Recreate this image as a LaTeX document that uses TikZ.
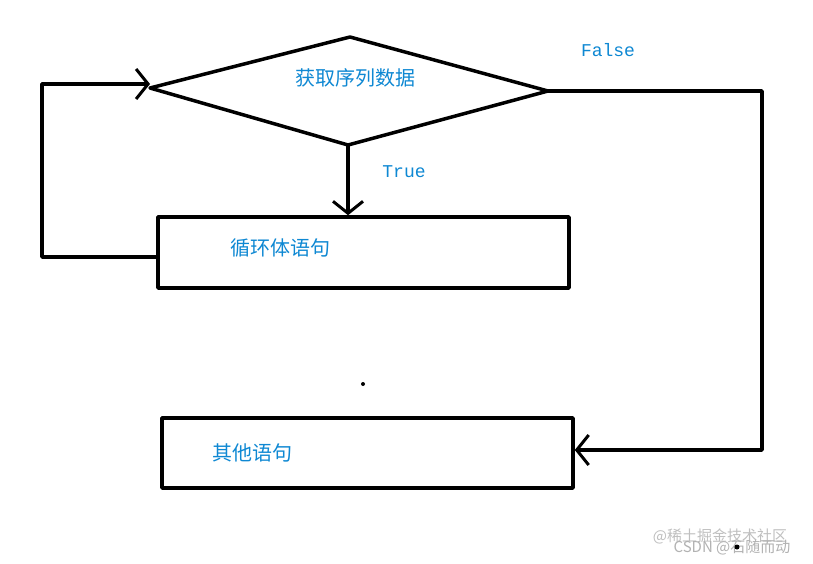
\documentclass[tikz,border=0pt]{standalone}
\usetikzlibrary{arrows.meta}
\usepackage{fontspec}
\newfontfamily\cjk{Noto Sans CJK SC}
\setmonofont{Liberation Mono}
\begin{document}
\begin{tikzpicture}[x=1pt,y=-1pt,
 ln/.style={line width=3.5pt,line cap=round,line join=round},
 arr/.style={ln,-{Straight Barb[length=12pt,width=30pt,line width=3pt]}},
 lab/.style={text=cyan!70!blue,anchor=west,inner sep=0,font=\cjk\fontsize{20}{20}\selectfont},
 tlab/.style={text=cyan!70!blue,font=\ttfamily\fontsize{18}{18}\selectfont}]
\useasboundingbox[fill=white] (0,0) rectangle (813,564);
\coordinate (dl) at (150,88); \coordinate (dt) at (350,37);
\coordinate (dr) at (548,91); \coordinate (db) at (348,145);
\draw[ln] (dl)--(dt)--(dr)--(db)--cycle;
\node[lab] (t1) at (295,78) {获取序列数据};
\node[draw,ln,minimum width=411pt,minimum height=71pt,inner sep=0] (b1) at (363.5,252.5) {};
\node[lab] (t2) at (230,248) {循环体语句};
\node[draw,ln,minimum width=411pt,minimum height=70pt,inner sep=0] (b2) at (367.5,453) {};
\node[lab] (t3) at (212,453) {其他语句};
\draw[arr] (db) -- (b1.north -| db);
\node[tlab] (tt) at (404,172) {True};
\node[tlab] (tf) at (608,50) {False};
\coordinate (c1) at (762,91); \coordinate (c2) at (762,450);
\draw[arr] (dr) -- (c1) -- (c2) -- (b2.east |- c2);
\coordinate (c3) at (42,257); \coordinate (c4) at (42,84);
\draw[arr] (b1.west |- c3) -- (c3) -- (c4) -- (dl |- c4);
\fill (363,384) circle (2pt);
\node[text=gray!50,font=\cjk\fontsize{15}{15}\selectfont] (w1) at (720,536) {@稀土掘金技术社区};
\node[text=gray!60,font=\cjk\fontsize{15}{15}\selectfont] (w2) at (732,547) {CSDN @石随而动};
\fill (737,547) circle (2.5pt);
\end{tikzpicture}
\end{document}
